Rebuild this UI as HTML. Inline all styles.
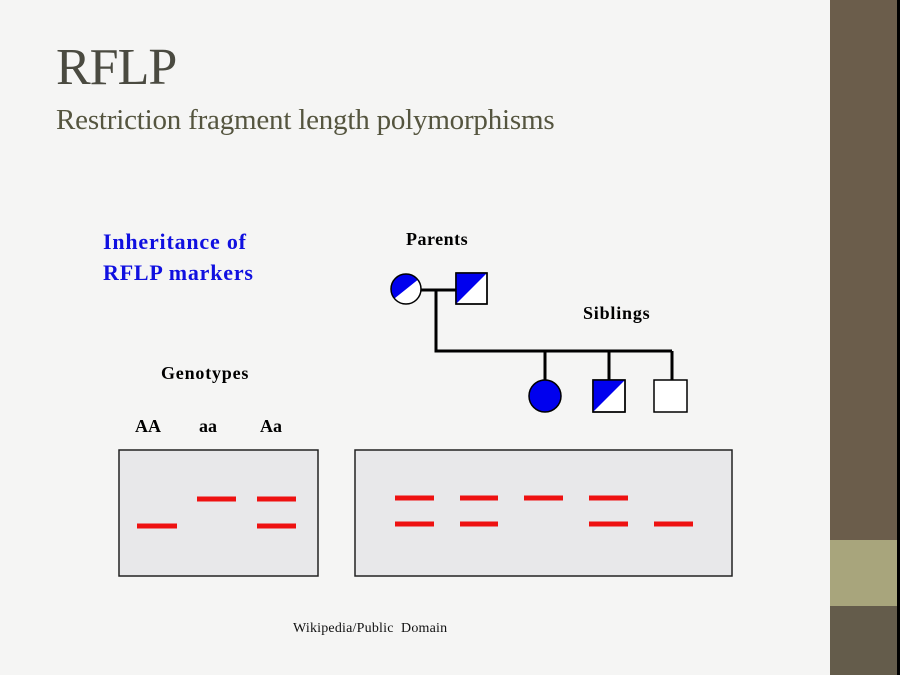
<!DOCTYPE html>
<html><head><style>
body{margin:0;width:900px;height:675px;overflow:hidden;background:#000;}
#s{position:absolute;left:0;top:0;width:830px;height:675px;background:#f5f5f4;}
#b{position:absolute;left:830px;top:0;width:67px;height:675px;background:#6b5d4b;}
#b2{position:absolute;left:830px;top:540px;width:67px;height:66px;background:#a8a57c;}
#b3{position:absolute;left:830px;top:606px;width:67px;height:69px;background:#645c4b;}
.t{position:absolute;font-family:"Liberation Serif",serif;white-space:nowrap;}
</style></head><body>
<div id="s"></div><div id="b"></div><div id="b2"></div><div id="b3"></div>
<div class="t" style="left:56px;top:38px;font-size:52px;color:#4a4a40;letter-spacing:-1px">RFLP</div>
<div class="t" style="left:56px;top:104px;font-size:29px;color:#55553f;letter-spacing:-0.2px">Restriction fragment length polymorphisms</div>
<div class="t" style="left:103px;top:226px;font-size:22px;font-weight:bold;color:#1010e0;line-height:31px;letter-spacing:0.8px">Inheritance of<br>RFLP markers</div>
<div class="t" style="left:406px;top:229px;font-size:18px;font-weight:bold;letter-spacing:0.5px">Parents</div>
<div class="t" style="left:583px;top:303px;font-size:18px;font-weight:bold;letter-spacing:0.8px">Siblings</div>
<div class="t" style="left:161px;top:363px;font-size:18px;font-weight:bold;letter-spacing:0.8px">Genotypes</div>
<div class="t" style="left:135px;top:416px;font-size:18px;font-weight:bold">AA</div>
<div class="t" style="left:199px;top:416px;font-size:18px;font-weight:bold">aa</div>
<div class="t" style="left:260px;top:416px;font-size:18px;font-weight:bold">Aa</div>
<div class="t" style="left:293px;top:621px;font-size:14px;color:#111;letter-spacing:0.2px">Wikipedia/Public&nbsp; Domain</div>
<svg width="900" height="675" style="position:absolute;left:0;top:0">
<g stroke="#000" stroke-width="3" fill="none">
<path d="M421 290H456M436 290V351H672M545 351V380M609 351V380M672 351V380"/>
</g>
<defs><clipPath id="c"><circle cx="406" cy="289" r="15"/></clipPath></defs>
<circle cx="406" cy="289" r="15" fill="#fff"/>
<polygon points="380,310 430,270 380,270" fill="#0000ee" clip-path="url(#c)"/>
<circle cx="406" cy="289" r="15" fill="none" stroke="#000" stroke-width="1.5"/>
<rect x="456" y="273" width="31" height="31" fill="#fff" stroke="#000" stroke-width="1.5"/>
<polygon points="456,304 487,273 456,273" fill="#0000ee"/>
<rect x="456" y="273" width="31" height="31" fill="none" stroke="#000" stroke-width="1.5"/>
<circle cx="545" cy="396" r="16" fill="#0000ee" stroke="#000" stroke-width="1.5"/>
<rect x="593" y="380" width="32" height="32" fill="#fff" stroke="#000" stroke-width="1.5"/>
<polygon points="593,412 625,380 593,380" fill="#0000ee"/>
<rect x="593" y="380" width="32" height="32" fill="none" stroke="#000" stroke-width="1.5"/>
<rect x="654" y="380" width="33" height="32" fill="#fff" stroke="#000" stroke-width="1.5"/>
<rect x="119" y="450" width="199" height="126" fill="#e8e8ea" stroke="#222" stroke-width="1.5"/>
<rect x="355" y="450" width="377" height="126" fill="#e8e8ea" stroke="#222" stroke-width="1.5"/>
<g stroke="#ee1111" stroke-width="5">
<path d="M137 526H177M197 499H236M257 499H296M257 526H296"/>
<path d="M395 498H434M395 524H434M460 498H498M460 524H498M524 498H563M589 498H628M589 524H628M654 524H693"/>
</g>
</svg>
</body></html>
